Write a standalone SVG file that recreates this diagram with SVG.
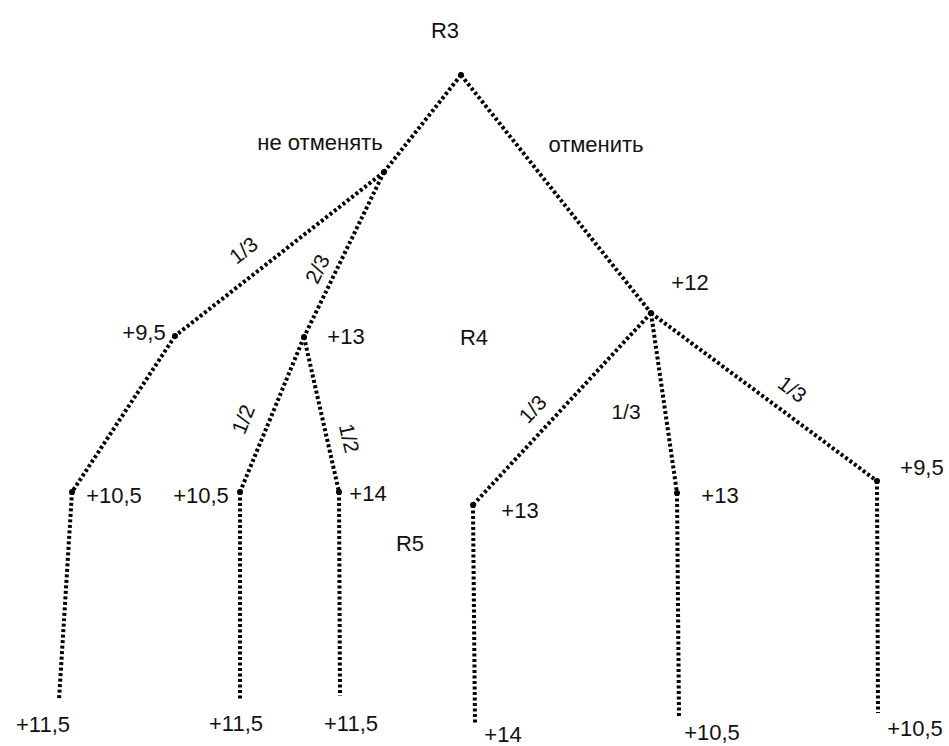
<svg xmlns="http://www.w3.org/2000/svg" width="949" height="746" viewBox="0 0 949 746">
<style>
.e{stroke:#000;stroke-width:4;stroke-dasharray:3 2.5;fill:none}
text{font-family:"Liberation Sans",Arial,sans-serif;font-size:22px;fill:#111}
.s{font-size:21px}
.d{fill:#000}
</style>
<rect width="949" height="746" fill="#fff"/>
<g id="connectors">
<line class="e" x1="461" y1="75" x2="384" y2="172"/>
<line class="e" x1="461" y1="75" x2="651" y2="313"/>
<line class="e" x1="384" y1="172" x2="175" y2="336"/>
<line class="e" x1="384" y1="172" x2="304" y2="337"/>
<line class="e" x1="175" y1="336" x2="72" y2="492"/>
<line class="e" x1="304" y1="337" x2="240" y2="492"/>
<line class="e" x1="304" y1="337" x2="339" y2="492"/>
<line class="e" x1="651" y1="313" x2="473" y2="505"/>
<line class="e" x1="651" y1="313" x2="677" y2="493"/>
<line class="e" x1="651" y1="313" x2="877" y2="481"/>
<line class="e" x1="72" y1="492" x2="59" y2="700"/>
<line class="e" x1="240" y1="492" x2="240" y2="700"/>
<line class="e" x1="339" y1="492" x2="340" y2="696"/>
<line class="e" x1="473" y1="505" x2="475" y2="725"/>
<line class="e" x1="677" y1="493" x2="679" y2="717"/>
<line class="e" x1="877" y1="481" x2="878" y2="713"/>
<text class="s" x="248" y="256" transform="rotate(-38 248 256)" text-anchor="middle">1/3</text>
<text class="s" x="324" y="272" transform="rotate(-64 324 272)" text-anchor="middle">2/3</text>
<text class="s" x="250" y="422" transform="rotate(-68 250 422)" text-anchor="middle">1/2</text>
<text class="s" x="342" y="440" transform="rotate(77 342 440)" text-anchor="middle">1/2</text>
<text class="s" x="538" y="414" transform="rotate(-47 538 414)" text-anchor="middle">1/3</text>
<text class="s" x="626" y="419" text-anchor="middle">1/3</text>
<text class="s" x="788" y="395" transform="rotate(37 788 395)" text-anchor="middle">1/3</text>
<text x="320" y="150" text-anchor="middle">не отменять</text>
<text x="596" y="152" text-anchor="middle">отменить</text>
</g>
<g id="R3"><circle class="d" cx="461" cy="75" r="3"/><text x="445" y="38" text-anchor="middle">R3</text></g>
<g id="R4"><text x="474" y="345" text-anchor="middle">R4</text></g>
<g id="R5"><text x="410" y="551" text-anchor="middle">R5</text></g>
<g id="n-cancel-no"><circle class="d" cx="384" cy="172" r="3"/></g>
<g id="n-cancel-yes"><circle class="d" cx="651" cy="313" r="3"/><text x="690" y="290" text-anchor="middle">+12</text></g>
<g id="n95a"><circle class="d" cx="175" cy="336" r="3"/><text x="144" y="340" text-anchor="middle">+9,5</text></g>
<g id="n13a"><circle class="d" cx="304" cy="337" r="3"/><text x="346" y="344" text-anchor="middle">+13</text></g>
<g id="n105a"><circle class="d" cx="72" cy="492" r="3"/><text x="114" y="503" text-anchor="middle">+10,5</text></g>
<g id="n105b"><circle class="d" cx="240" cy="492" r="3"/><text x="201" y="503" text-anchor="middle">+10,5</text></g>
<g id="n14a"><circle class="d" cx="339" cy="492" r="3"/><text x="368" y="501" text-anchor="middle">+14</text></g>
<g id="n13b"><circle class="d" cx="473" cy="505" r="3"/><text x="520" y="518" text-anchor="middle">+13</text></g>
<g id="n13c"><circle class="d" cx="677" cy="493" r="3"/><text x="720" y="503" text-anchor="middle">+13</text></g>
<g id="n95b"><circle class="d" cx="877" cy="481" r="3"/><text x="922" y="475" text-anchor="middle">+9,5</text></g>
<g id="l1"><text x="43" y="732" text-anchor="middle">+11,5</text></g>
<g id="l2"><text x="236" y="731" text-anchor="middle">+11,5</text></g>
<g id="l3"><text x="351" y="731" text-anchor="middle">+11,5</text></g>
<g id="l4"><text x="503" y="742" text-anchor="middle">+14</text></g>
<g id="l5"><text x="712" y="740" text-anchor="middle">+10,5</text></g>
<g id="l6"><text x="915" y="736" text-anchor="middle">+10,5</text></g>
</svg>
